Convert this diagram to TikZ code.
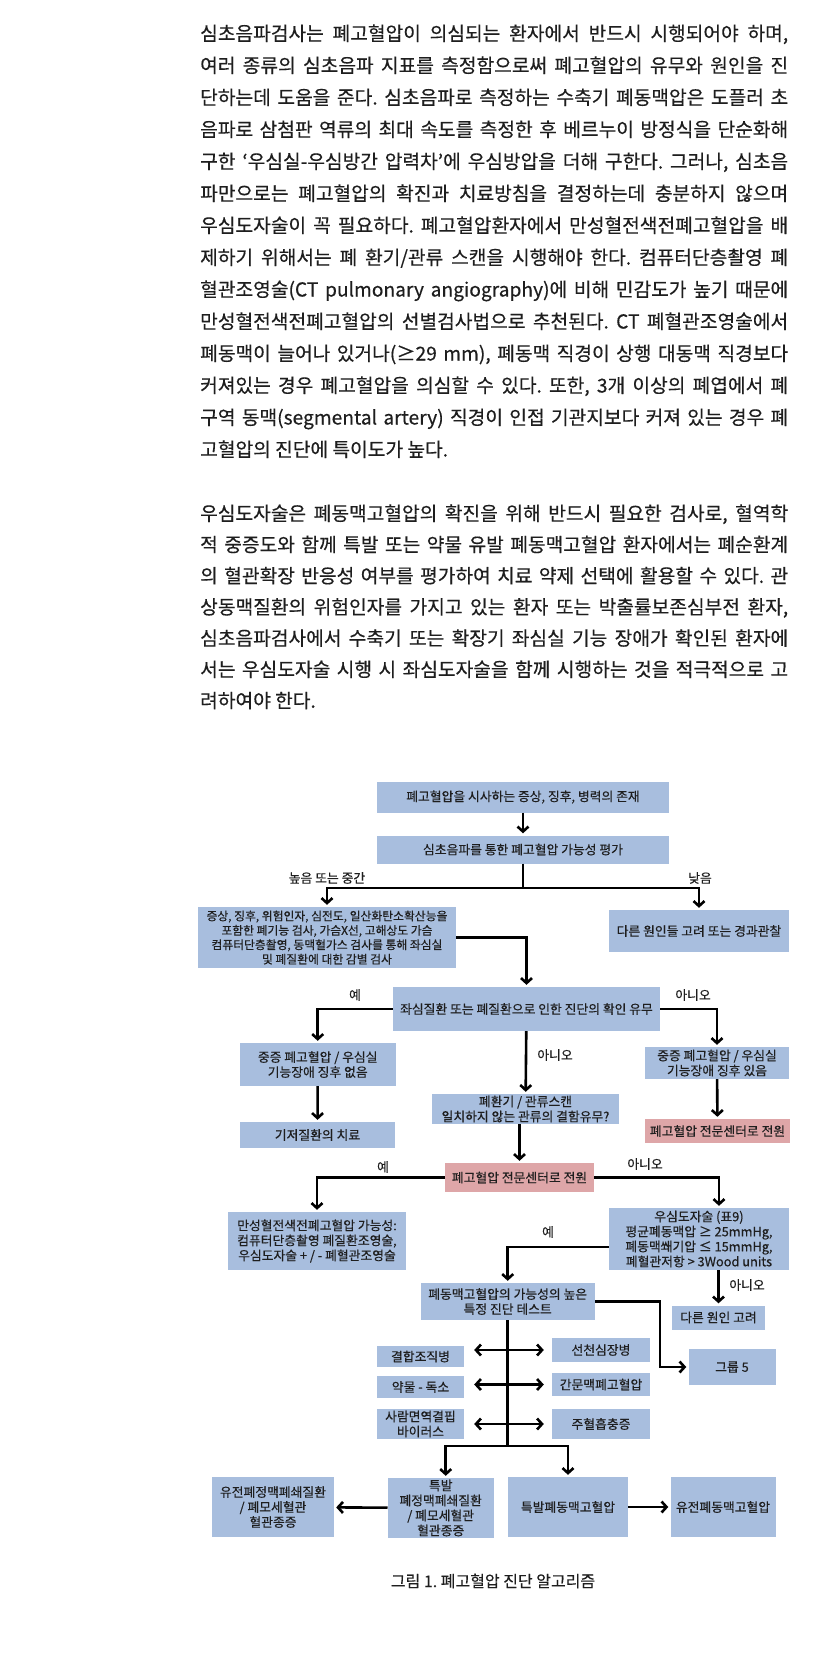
\documentclass[tikz,border=0pt]{standalone}
\usepackage{fontspec}
\setmainfont{Noto Sans CJK KR}[FakeBold=0.4]
\usetikzlibrary{arrows.meta,positioning}
\definecolor{boxblue}{RGB}{168,190,222}
\definecolor{boxred}{RGB}{222,166,168}
\definecolor{ink}{RGB}{30,30,30}
\newcommand{\justline}[1]{\makebox[588pt][s]{#1}}
\frenchspacing

\begin{document}
\begin{tikzpicture}[x=1pt,y=-1pt]

	\tikzstyle{para}=[anchor=base west,inner sep=0pt,text=ink,
		font=\fontsize{19.2}{19.2}\selectfont]
	\tikzstyle{box}=[rectangle,fill=boxblue,draw=none,
		align=center,inner sep=0pt,text=ink,
		font=\fontsize{12.8}{15}\selectfont]
	\tikzstyle{refer}=[box,fill=boxred]
	\tikzstyle{tag}=[inner sep=0pt,text=ink,
		font=\fontsize{12.8}{14}\selectfont]
	\tikzstyle{arrow}=[-{Straight Barb[length=5pt,width=11pt]},
		draw=black,line width=2.6pt,shorten >=2pt]
	\tikzstyle{wire}=[draw=black,line width=2.6pt]
	\tikzstyle{twoway}=[arrow,
		{Straight Barb[length=5pt,width=11pt]}-{Straight Barb[length=5pt,width=11pt]},
		shorten <=10pt,shorten >=8pt]

	\useasboundingbox (0,0) rectangle (840,1658);

	% text above the figure
	\node[para]	(p1)	at (200,40.5)	{\justline{심초음파검사는 폐고혈압이 의심되는 환자에서 반드시 시행되어야 하며,}};
	\node[para]	(p2)	at (200,72.5)	{\justline{여러 종류의 심초음파 지표를 측정함으로써 폐고혈압의 유무와 원인을 진}};
	\node[para]	(p3)	at (200,104.5)	{\justline{단하는데 도움을 준다. 심초음파로 측정하는 수축기 폐동맥압은 도플러 초}};
	\node[para]	(p4)	at (200,136.5)	{\justline{음파로 삼첨판 역류의 최대 속도를 측정한 후 베르누이 방정식을 단순화해}};
	\node[para]	(p5)	at (200,168.5)	{\justline{구한 ‘우심실-우심방간 압력차’에 우심방압을 더해 구한다. 그러나, 심초음}};
	\node[para]	(p6)	at (200,200.5)	{\justline{파만으로는 폐고혈압의 확진과 치료방침을 결정하는데 충분하지 않으며}};
	\node[para]	(p7)	at (200,232.5)	{\justline{우심도자술이 꼭 필요하다. 폐고혈압환자에서 만성혈전색전폐고혈압을 배}};
	\node[para]	(p8)	at (200,264.5)	{\justline{제하기 위해서는 폐 환기/관류 스캔을 시행해야 한다. 컴퓨터단층촬영 폐}};
	\node[para]	(p9)	at (200,296.5)	{\justline{혈관조영술(CT pulmonary angiography)에 비해 민감도가 높기 때문에}};
	\node[para]	(p10)	at (200,328.5)	{\justline{만성혈전색전폐고혈압의 선별검사법으로 추천된다. CT 폐혈관조영술에서}};
	\node[para]	(p11)	at (200,360.5)	{\justline{폐동맥이 늘어나 있거나(≥29 mm), 폐동맥 직경이 상행 대동맥 직경보다}};
	\node[para]	(p12)	at (200,392.5)	{\justline{커져있는 경우 폐고혈압을 의심할 수 있다. 또한, 3개 이상의 폐엽에서 폐}};
	\node[para]	(p13)	at (200,424.5)	{\justline{구역 동맥(segmental artery) 직경이 인접 기관지보다 커져 있는 경우 폐}};
	\node[para]	(p14)	at (200,456.5)	{고혈압의 진단에 특이도가 높다.};

	\node[para]	(q1)	at (200,520.5)	{\justline{우심도자술은 폐동맥고혈압의 확진을 위해 반드시 필요한 검사로, 혈역학}};
	\node[para]	(q2)	at (200,551.7)	{\justline{적 중증도와 함께 특발 또는 약물 유발 폐동맥고혈압 환자에서는 폐순환계}};
	\node[para]	(q3)	at (200,582.9)	{\justline{의 혈관확장 반응성 여부를 평가하여 치료 약제 선택에 활용할 수 있다. 관}};
	\node[para]	(q4)	at (200,614.1)	{\justline{상동맥질환의 위험인자를 가지고 있는 환자 또는 박출률보존심부전 환자,}};
	\node[para]	(q5)	at (200,645.3)	{\justline{심초음파검사에서 수축기 또는 확장기 좌심실 기능 장애가 확인된 환자에}};
	\node[para]	(q6)	at (200,676.5)	{\justline{서는 우심도자술 시행 시 좌심도자술을 함께 시행하는 것을 적극적으로 고}};
	\node[para]	(q7)	at (200,707.7)	{려하여야 한다.};

	% flow chart
	\node[box,minimum width=292pt,minimum height=31pt]	(sign)	at (523,797)	{폐고혈압을 시사하는 증상, 징후, 병력의 존재};
	\node[box,minimum width=292pt,minimum height=28pt]	(echo)	at (523,849.5)	{심초음파를 통한 폐고혈압 가능성 평가};
	\node[box,minimum width=258pt,minimum height=61pt,font=\fontsize{11.8}{14.4}\selectfont]	(workup)	at (327,937.5)
		{증상, 징후, 위험인자, 심전도, 일산화탄소확산능을\\포함한 폐기능 검사, 가슴X선, 고해상도 가슴\\컴퓨터단층촬영, 동맥혈가스 검사를 통해 좌심실\\및 폐질환에 대한 감별 검사};
	\node[box,minimum width=180pt,minimum height=42pt]	(other)	at (699,931)	{다른 원인들 고려 또는 경과관찰};
	\node[box,minimum width=267pt,minimum height=44pt]	(confirm)	at (526.5,1009)	{좌심질환 또는 폐질환으로 인한 진단의 확인 유무};
	\node[box,minimum width=156pt,minimum height=43pt]	(noRV)	at (317.7,1064.5)	{중증 폐고혈압 / 우심실\\기능장애 징후 없음};
	\node[box,minimum width=144pt,minimum height=32pt]	(RV)	at (717,1063)	{중증 폐고혈압 / 우심실\\기능장애 징후 있음};
	\node[box,minimum width=187pt,minimum height=30pt]	(vq)	at (525.5,1109)	{폐환기 / 관류스캔\\일치하지 않는 관류의 결함유무?};
	\node[box,minimum width=155pt,minimum height=26pt]	(treat)	at (317.5,1135)	{기저질환의 치료};
	\node[refer,minimum width=145pt,minimum height=24pt]	(center1)	at (717.5,1131)	{폐고혈압 전문센터로 전원};
	\node[refer,minimum width=149pt,minimum height=29pt]	(center2)	at (519.5,1177.5)	{폐고혈압 전문센터로 전원};
	\node[box,minimum width=178pt,minimum height=58pt]	(cteph)	at (317,1241)
		{만성혈전색전폐고혈압 가능성:\\컴퓨터단층촬영 폐질환조영술,\\우심도자술 + / - 폐혈관조영술};
	\node[box,minimum width=180pt,minimum height=62pt]	(rhc)	at (699,1239)
		{우심도자술 (표9)\\평균폐동맥압 ≥ 25mmHg,\\폐동맥쐐기압 ≤ 15mmHg,\\폐혈관저항 > 3Wood units};
	\node[box,minimum width=174pt,minimum height=37pt]	(pah)	at (507.7,1301.5)	{폐동맥고혈압의 가능성의 높은\\특정 진단 테스트};
	\node[box,minimum width=93pt,minimum height=24pt]	(other2)	at (718.5,1317.5)	{다른 원인 고려};
	\node[box,minimum width=87pt,minimum height=36pt]	(group5)	at (732,1367)	{그룹 5};
	\node[box,minimum width=87pt,minimum height=21pt]	(ctd)	at (420.5,1356.5)	{결합조직병};
	\node[box,minimum width=98pt,minimum height=24pt]	(chd)	at (601,1350)	{선천심장병};
	\node[box,minimum width=87pt,minimum height=22pt]	(drug)	at (420.5,1387)	{약물 - 독소};
	\node[box,minimum width=98pt,minimum height=23pt]	(portal)	at (601,1384.5)	{간문맥폐고혈압};
	\node[box,minimum width=87pt,minimum height=30pt]	(hiv)	at (420.5,1424)	{사람면역결핍\\바이러스};
	\node[box,minimum width=98pt,minimum height=30pt]	(schisto)	at (601,1424)	{주혈흡충증};
	\node[box,minimum width=106pt,minimum height=60pt]	(ipvod)	at (440.7,1508)	{특발\\폐정맥폐쇄질환\\/ 폐모세혈관\\혈관종증};
	\node[box,minimum width=122pt,minimum height=60pt]	(hpvod)	at (273,1507)	{유전폐정맥폐쇄질환\\/ 폐모세혈관\\혈관종증};
	\node[box,minimum width=120pt,minimum height=60pt]	(ipah)	at (568,1507)	{특발폐동맥고혈압};
	\node[box,minimum width=105pt,minimum height=60pt]	(hpah)	at (723,1507)	{유전폐동맥고혈압};

	\coordinate	(fork1)	at (523,888);
	\coordinate	(g5turn)	at (660,1367);
	\coordinate	(fork2)	at (507.7,1446);

	\node[tag]	(high)	at (327,878)	{높음 또는 중간};
	\node[tag]	(low)	at (700,878)	{낮음};
	\node[tag]	(yes1)	at (355,995)	{예};
	\node[tag]	(no1)	at (693,995)	{아니오};
	\node[tag]	(no2)	at (555,1055)	{아니오};
	\node[tag]	(yes2)	at (383,1167)	{예};
	\node[tag]	(no3)	at (645,1164)	{아니오};
	\node[tag]	(yes3)	at (548,1232)	{예};
	\node[tag]	(no4)	at (747,1285)	{아니오};

	\draw[arrow]	(sign)	--	(echo);
	\draw[wire]	(echo)	--	(fork1);
	\draw[arrow]	(fork1)	-|	(workup);
	\draw[arrow]	(fork1)	-|	(other);
	\draw[arrow]	(workup)	-|	(confirm);

	\draw[arrow]	(confirm)	-|	(noRV);
	\draw[arrow]	(confirm)	-|	(RV);
	\draw[arrow]	(confirm)	--	(vq);
	\draw[arrow]	(noRV)	--	(treat);
	\draw[arrow]	(RV)	--	(center1);
	\draw[arrow]	(vq.south -| center2.north)	--	(center2);

	\draw[arrow]	(center2)	-|	(cteph);
	\draw[arrow]	(center2)	-|	([xshift=20pt]rhc.north);
	\draw[arrow]	([yshift=-8pt]rhc.west)	-|	(pah);
	\draw[arrow]	(rhc.south -| other2)	--	(other2);
	\draw[arrow]	(pah)	-|	(g5turn)	--	(group5);

	\draw[wire]	(pah)	--	(fork2);
	\draw[twoway]	(ctd.east |- chd)	--	(chd);
	\draw[twoway]	(drug.east |- portal)	--	(portal);
	\draw[twoway]	(hiv)	--	(schisto);
	\draw[arrow]	(fork2)	-|	([xshift=5pt]ipvod.north);
	\draw[arrow]	(fork2)	-|	(ipah);
	\draw[arrow]	(ipvod)	--	(hpvod);
	\draw[arrow]	(ipah)	--	(hpah);

	\node[text=ink,font=\fontsize{16}{16}\selectfont]	(caption)	at (493,1581)	{그림 1. 폐고혈압 진단 알고리즘};

\end{tikzpicture}
\end{document}
